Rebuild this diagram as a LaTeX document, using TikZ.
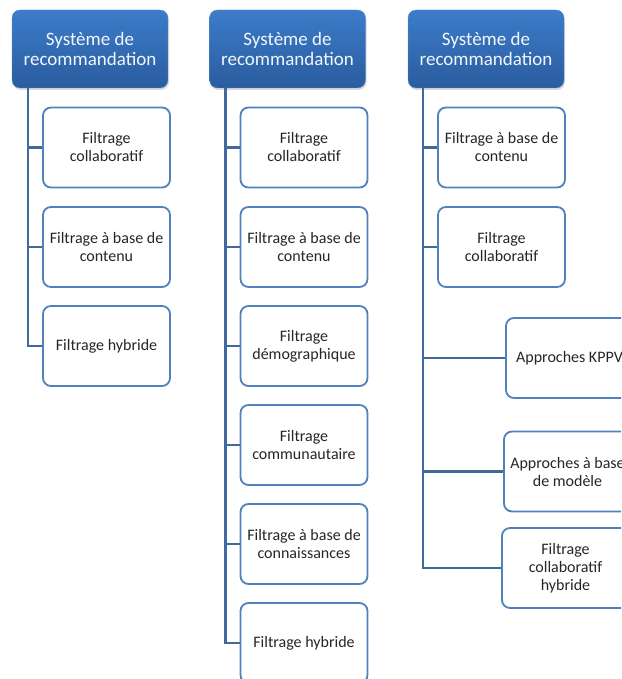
\documentclass[tikz,border=0pt]{standalone}
\usepackage{fontspec}
\setmainfont{Carlito}
\usetikzlibrary{shadows}
\definecolor{topblue}{HTML}{3C7CC9}
\definecolor{topdark}{HTML}{2A5C9F}
\definecolor{boxblue}{HTML}{4F81BD}
\definecolor{linkblue}{HTML}{42699C}
\tikzset{
  topbox/.style={rounded corners=8pt, top color=topblue, bottom color=topdark,
    draw=topblue!85!white, minimum width=156pt, minimum height=78pt, align=center,
    text=white!94!topblue, font=\fontsize{19}{20.5}\selectfont,
    drop shadow={shadow xshift=1pt, shadow yshift=-2pt, opacity=.3}},
  subbox/.style={rounded corners=8pt, draw=boxblue, line width=1.8pt, fill=white,
    minimum width=127pt, minimum height=80pt, align=center, inner sep=2pt,
    text=black!85, font=\fontsize{16}{18}\selectfont},
  link/.style={draw=linkblue, line width=2.4pt}
}
\begin{document}
\begin{tikzpicture}[x=1pt,y=-1pt]
\useasboundingbox (0,0) rectangle (621,679);
\clip (0,0) rectangle (621,679);
% three roots
\node[topbox] (t1) at (90,49) {Système de\\recommandation};
\node[topbox] (t2) at (287.5,49) {Système de\\recommandation};
\node[topbox] (t3) at (486,49) {Système de\\recommandation};
\coordinate (r1) at ([xshift=16pt]t1.south west);
\coordinate (r2) at ([xshift=16pt]t2.south west);
\coordinate (r3) at ([xshift=15pt]t3.south west);
% first column
\foreach \i/\y/\txt in {1/147.5/{Filtrage\\collaboratif},
    2/247/{Filtrage à base de\\contenu}, 3/346/{Filtrage hybride}}
  \node[subbox] (a\i) at (106.5,\y) {\txt};
% second column
\foreach \i/\y/\txt in {1/147.5/{Filtrage\\collaboratif},
    2/247/{Filtrage à base de\\contenu}, 3/346/{Filtrage\\démographique},
    4/445/{Filtrage\\communautaire}, 5/544/{Filtrage à base de\\connaissances},
    6/643/{Filtrage hybride}}
  \node[subbox] (b\i) at (304,\y) {\txt};
% third column
\node[subbox] (c1) at (501.5,147.5) {Filtrage à base de\\contenu};
\node[subbox] (c2) at (501.5,247) {Filtrage\\collaboratif};
\node[subbox] (c3) at (569.5,358) {Approches KPPV};
\node[subbox] (c4) at (567.5,471.5) {Approches à base\\de modèle};
\node[subbox] (c5) at (565.5,568) {Filtrage\\collaboratif\\hybride};
% connectors
\draw[link] (r1) |- (a3.west);
\foreach \i in {1,2} \draw[link] (r1 |- a\i.west) -- (a\i.west);
\draw[link] (r2) |- (b6.west);
\foreach \i in {1,...,5} \draw[link] (r2 |- b\i.west) -- (b\i.west);
\draw[link] (r3) |- (c5.west);
\foreach \i in {1,...,4} \draw[link] (r3 |- c\i.west) -- (c\i.west);
\end{tikzpicture}
\end{document}
